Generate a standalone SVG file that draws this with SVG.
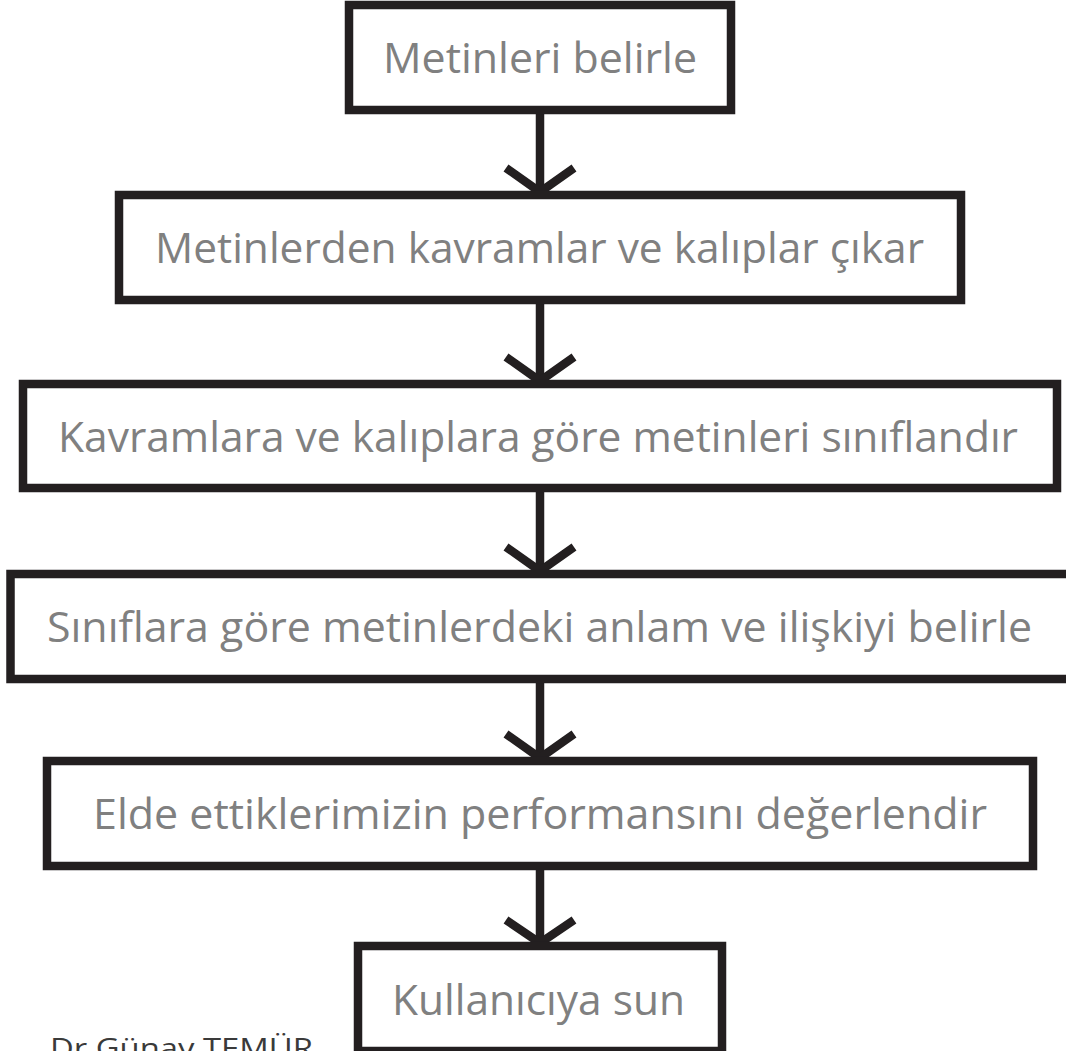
<svg xmlns="http://www.w3.org/2000/svg" width="1066" height="1051" viewBox="0 0 1066 1051">
<style>
.box{fill:#ffffff;stroke:#231f20;stroke-width:8.5}
.lbl{font-family:"Open Sans","Noto Sans","Liberation Sans",sans-serif;font-size:42px;fill:#808080;text-anchor:middle}
.conn{fill:none;stroke:#231f20;stroke-width:8.5;stroke-linejoin:miter}
.sig{font-family:"Open Sans","Noto Sans","Liberation Sans",sans-serif;font-size:28px;fill:#3a3a3a}
</style>
<rect width="1066" height="1051" fill="#ffffff"/>
<g id="connectors">
<line class="conn" x1="540" y1="110" x2="540" y2="193"/>
<polyline class="conn" points="506,168 540,192 574,168"/>
<line class="conn" x1="540" y1="300" x2="540" y2="382"/>
<polyline class="conn" points="506,357 540,381 574,357"/>
<line class="conn" x1="540" y1="488" x2="540" y2="572"/>
<polyline class="conn" points="506,547 540,571 574,547"/>
<line class="conn" x1="540" y1="679" x2="540" y2="759"/>
<polyline class="conn" points="506,734 540,758 574,734"/>
<line class="conn" x1="540" y1="866" x2="540" y2="944"/>
<polyline class="conn" points="506,920 540,943 574,920"/>
</g>
<g id="n1">
<rect class="box" x="349" y="5" width="382" height="105"/>
<text class="lbl" x="540" y="73" textLength="314" lengthAdjust="spacingAndGlyphs">Metinleri belirle</text>
</g>
<g id="n2">
<rect class="box" x="119" y="195" width="842" height="105"/>
<text class="lbl" x="539.5" y="263" textLength="769" lengthAdjust="spacingAndGlyphs">Metinlerden kavramlar ve kalıplar çıkar</text>
</g>
<g id="n3">
<rect class="box" x="23" y="384" width="1034" height="104"/>
<text class="lbl" x="538" y="451.5" textLength="960" lengthAdjust="spacingAndGlyphs">Kavramlara ve kalıplara göre metinleri sınıflandır</text>
</g>
<g id="n4">
<rect class="box" x="10.5" y="574" width="1060" height="105"/>
<text class="lbl" x="539.5" y="642" textLength="985" lengthAdjust="spacingAndGlyphs">Sınıflara göre metinlerdeki anlam ve ilişkiyi belirle</text>
</g>
<g id="n5">
<rect class="box" x="47" y="761" width="986" height="105"/>
<text class="lbl" x="540" y="829" textLength="894" lengthAdjust="spacingAndGlyphs">Elde ettiklerimizin performansını değerlendir</text>
</g>
<g id="n6">
<rect class="box" x="358" y="946" width="364" height="105"/>
<text class="lbl" x="538.5" y="1015" textLength="293" lengthAdjust="spacingAndGlyphs">Kullanıcıya sun</text>
</g>
<text class="sig" x="50" y="1058" textLength="263" lengthAdjust="spacingAndGlyphs">Dr Günay TEMÜR</text>
</svg>
